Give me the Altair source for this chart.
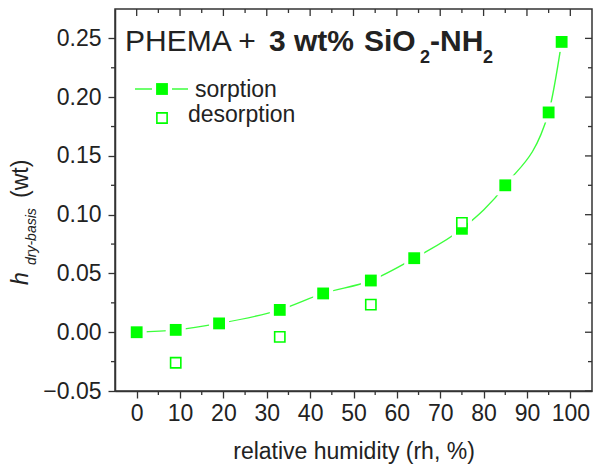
import altair as alt
import pandas as pd

# Water uptake of PHEMA + 3 wt% SiO2-NH2 vs. relative humidity
rh_sorption = [0, 9, 19, 33, 43, 54, 64, 75, 85, 95, 98]
h_sorption = [0.000, 0.002, 0.0075, 0.019, 0.033, 0.044, 0.063, 0.088, 0.125, 0.187, 0.247]
rh_desorption = [9, 33, 54, 75]
h_desorption = [-0.026, -0.004, 0.0235, 0.093]

x_major = list(range(0, 101, 10))
x_minor = list(range(5, 100, 10))
y_major = [-0.05, 0.0, 0.05, 0.10, 0.15, 0.20, 0.25]
y_minor = [-0.025, 0.025, 0.075, 0.125, 0.175, 0.225]
legend_labels = ["sorption", "desorption"]

W, H = 477, 382
GREEN = "#00ff00"
LINE_GREEN = "#3cff3c"
INK = "#222222"
FRAME = "#333333"
FONT = "Liberation Sans"

sorp = pd.DataFrame({"rh": rh_sorption, "h": h_sorption})
desorp = pd.DataFrame({"rh": rh_desorption, "h": h_desorption})

x_scale = alt.Scale(domain=[-5, 105], nice=False, zero=False)
y_scale = alt.Scale(domain=[-0.05, 0.275], nice=False, zero=False)

x_axis = alt.Axis(values=x_major, title="relative humidity (rh, %)", tickSize=7,
                  labelPadding=4, titleY=67, titleBaseline="alphabetic",
                  titleFontSize=23, titleFontWeight="normal", titleColor=INK,
                  titleFont=FONT)
y_axis = alt.Axis(values=y_major, format=".2f", title=None, tickSize=7, labelPadding=7)


def X(field):
    return alt.X(f"{field}:Q", scale=x_scale, axis=x_axis)


def Y(field):
    return alt.Y(f"{field}:Q", scale=y_scale, axis=y_axis)


one = pd.DataFrame({"k": [0]})

# sorption curve, with white halos that open small gaps around the markers
curve = alt.Chart(sorp).mark_line(interpolate="monotone", color=LINE_GREEN,
                                  strokeWidth=1.4).encode(x=X("rh"), y=Y("h"))
halo = alt.Chart(sorp).mark_square(size=400, color="white", opacity=1).encode(x=X("rh"), y=Y("h"))
sorp_pts = alt.Chart(sorp).mark_square(size=140, color=GREEN, opacity=1).encode(x=X("rh"), y=Y("h"))
desorp_pts = alt.Chart(desorp).mark_square(size=105, fill="white", stroke=GREEN, strokeWidth=1.6,
                                           opacity=1).encode(x=X("rh"), y=Y("h"))

# mirrored and minor ticks around the frame
tick_style = dict(color=FRAME, strokeWidth=1.3)
xmaj_df = pd.DataFrame({"v": x_major})
xmin_df = pd.DataFrame({"v": x_minor})
ymaj_df = pd.DataFrame({"v": y_major})
ymin_df = pd.DataFrame({"v": y_minor})
ticks = [
    alt.Chart(xmaj_df).mark_rule(**tick_style).encode(x=X("v"), y=alt.value(0), y2=alt.value(7)),
    alt.Chart(xmin_df).mark_rule(**tick_style).encode(x=X("v"), y=alt.value(0), y2=alt.value(4)),
    alt.Chart(xmin_df).mark_rule(**tick_style).encode(x=X("v"), y=alt.value(H), y2=alt.value(H + 4)),
    alt.Chart(ymaj_df).mark_rule(**tick_style).encode(y=Y("v"), x=alt.value(W - 7), x2=alt.value(W)),
    alt.Chart(ymin_df).mark_rule(**tick_style).encode(y=Y("v"), x=alt.value(W - 4), x2=alt.value(W)),
    alt.Chart(ymin_df).mark_rule(**tick_style).encode(y=Y("v"), x=alt.value(-4), x2=alt.value(0)),
]


def label(text, x, y, size, weight="normal", style="normal", angle=0):
    return alt.Chart(pd.DataFrame({"t": [text]})).mark_text(
        align="left", baseline="alphabetic", fontSize=size, fontWeight=weight,
        fontStyle=style, angle=angle, font=FONT, color=INK
    ).encode(x=alt.value(x), y=alt.value(y), text="t:N")


# in-plot heading: PHEMA + 3 wt% SiO2-NH2
heading = [
    label("PHEMA +", 10, 41.5, 30),
    label("3 wt%", 154, 41.5, 30, "bold"),
    label("SiO", 249, 41.5, 30, "bold"),
    label("2", 305, 54, 18, "bold"),
    label("-NH", 315, 41.5, 30, "bold"),
    label("2", 368, 54, 18, "bold"),
]

# y-axis title: h_dry-basis (wt), read bottom to top
y_title = [
    label("h", -87, 276, 23, style="italic", angle=270),
    label("dry-basis", -79, 256, 14, style="italic", angle=270),
    label("(wt)", -87, 189, 23, angle=270),
]

# legend box
legend = [
    alt.Chart(one).mark_rule(color=LINE_GREEN, strokeWidth=1.4).encode(
        x=alt.value(20), x2=alt.value(73), y=alt.value(80)),
    alt.Chart(one).mark_square(size=400, color="white", opacity=1).encode(
        x=alt.value(47), y=alt.value(80)),
    alt.Chart(one).mark_square(size=140, color=GREEN, opacity=1).encode(
        x=alt.value(47), y=alt.value(80)),
    alt.Chart(one).mark_square(size=105, fill="white", stroke=GREEN, strokeWidth=1.6,
                               opacity=1).encode(x=alt.value(47), y=alt.value(109)),
    label(legend_labels[0], 80, 88, 23),
    label(legend_labels[1], 73, 113, 23),
]

chart = alt.layer(
    curve, halo, sorp_pts, desorp_pts, *ticks, *heading, *y_title, *legend
).properties(
    width=W, height=H,
    autosize=alt.AutoSizeParams(type="none"),
    padding={"left": 115, "top": 9, "right": 8, "bottom": 80},
    background="white",
).configure_view(
    stroke=FRAME, strokeWidth=1.5
).configure_axis(
    grid=False, domainColor=FRAME, domainWidth=1.5, tickColor=FRAME, tickWidth=1.3,
    labelColor=INK, labelFont=FONT, labelFontSize=23
)

chart.save("out.html", embed_options={"renderer": "svg", "actions": False})
